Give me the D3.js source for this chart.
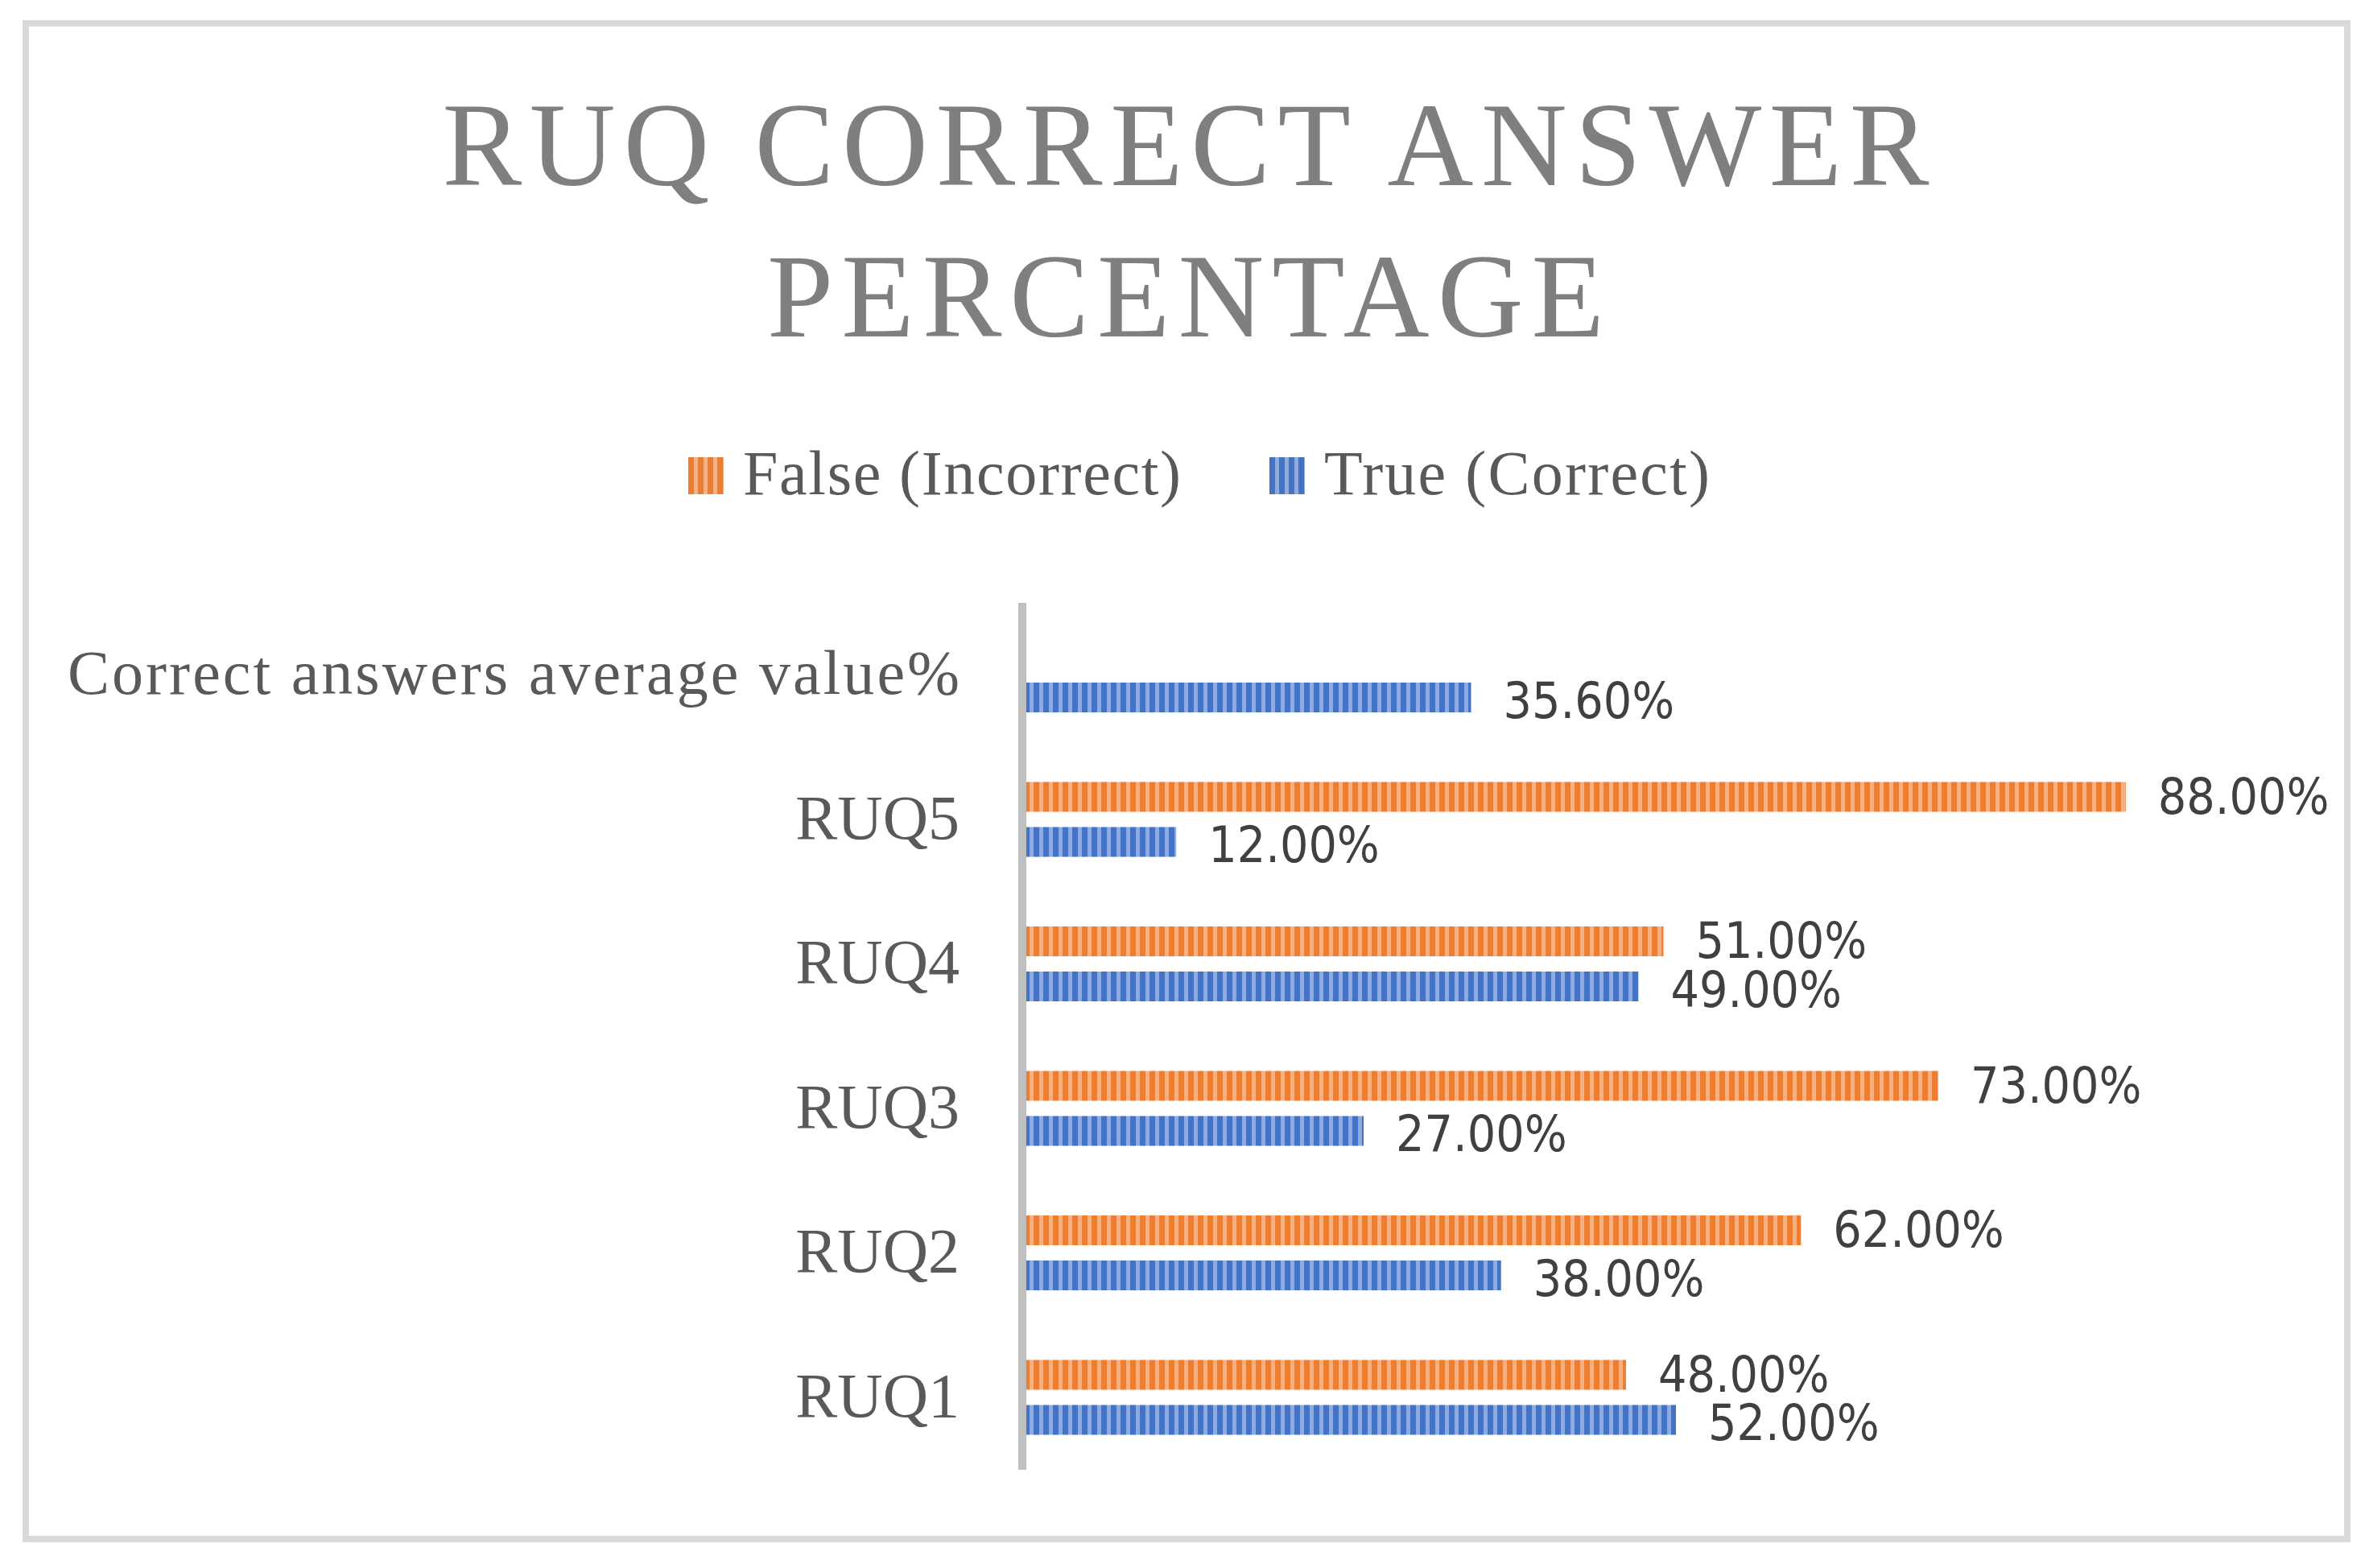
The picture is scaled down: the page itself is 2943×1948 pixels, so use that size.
<!DOCTYPE html>
<html>
<head>
<meta charset="utf-8">
<script src="https://cdn.jsdelivr.net/npm/d3@7"></script>
<style>
  html, body { margin: 0; padding: 0; background: #fff; }
  svg { display: block; }
</style>
</head>
<body>
<svg id="chart"></svg>
<script>
// Chart data
const categories = ["RUQ1", "RUQ2", "RUQ3", "RUQ4", "RUQ5", "Correct answers average value%"];
const seriesNames = ["False (Incorrect)", "True (Correct)"];
const falseValues = [48, 62, 73, 51, 88, null];
const trueValues = [52, 38, 27, 49, 12, 35.6];
const titleLines = ["RUQ CORRECT ANSWER", "PERCENTAGE"];

const width = 2943;
const height = 1948;
const serifFont = "'Liberation Serif', 'DejaVu Serif', serif";
const labelFont = "'Liberation Sans Narrow', 'DejaVu Sans Condensed', 'Liberation Sans', sans-serif";

const svg = d3.select("#chart").attr("width", width).attr("height", height);

// stripe patterns like Excel's vertical pattern fill
const colors = [
  { id: "pFalse", dark: "#ed7d31", light: "#f4b183" },
  { id: "pTrue", dark: "#4472c4", light: "#8faadc" }
];
const defs = svg.append("defs");
colors.forEach(c => {
  const p = defs.append("pattern")
    .attr("id", c.id)
    .attr("patternUnits", "userSpaceOnUse")
    .attr("width", 12).attr("height", 12);
  p.append("rect").attr("width", 12).attr("height", 12).attr("fill", c.dark);
  p.append("rect").attr("x", 7).attr("width", 5).attr("height", 12).attr("fill", c.light);
});

svg.append("rect").attr("width", width).attr("height", height).attr("fill", "#fff");

// chart border
svg.append("rect")
  .attr("x", 32).attr("y", 29)
  .attr("width", 2884).attr("height", 1883)
  .attr("fill", "none")
  .attr("stroke", "#d9d9d9")
  .attr("stroke-width", 8);

// title
const titleWidths = [1847, 1040];
svg.selectAll("text.title")
  .data(titleLines)
  .enter()
  .append("text")
  .attr("class", "title")
  .attr("x", 1473)
  .attr("y", (d, i) => 230 + i * 188)
  .attr("text-anchor", "middle")
  .attr("textLength", (d, i) => titleWidths[i])
  .attr("lengthAdjust", "spacing")
  .style("font-family", serifFont)
  .style("font-size", "148px")
  .attr("fill", "#7f7f7f")
  .text(d => d);

// scales
const margin = { left: 1275, right: 2827, top: 749, bottom: 1826 };
const x = d3.scaleLinear().domain([0, 100]).range([margin.left, margin.right]);
const y0 = d3.scaleBand()
  .domain(categories.slice().reverse())
  .range([margin.top, margin.bottom]);
const y1 = d3.scaleBand()
  .domain(seriesNames)
  .range([43, 136])
  .paddingInner(0.339);

const rows = categories.map((c, i) => ({
  category: c,
  values: [
    { series: seriesNames[0], value: falseValues[i], fill: "url(#pFalse)", dy: -1 },
    { series: seriesNames[1], value: trueValues[i], fill: "url(#pTrue)", dy: 4 }
  ].filter(v => v.value != null)
}));

const groups = svg.selectAll("g.group")
  .data(rows)
  .enter()
  .append("g")
  .attr("class", "group")
  .attr("transform", d => `translate(0,${y0(d.category)})`);

groups.selectAll("rect")
  .data(d => d.values)
  .enter()
  .append("rect")
  .attr("x", x(0))
  .attr("y", d => y1(d.series))
  .attr("width", d => x(d.value) - x(0))
  .attr("height", y1.bandwidth())
  .attr("fill", d => d.fill);

groups.selectAll("text.value")
  .data(d => d.values)
  .enter()
  .append("text")
  .attr("class", "value")
  .attr("x", d => x(d.value) + 40)
  .attr("y", d => y1(d.series) + y1.bandwidth() / 2 + d.dy)
  .attr("dominant-baseline", "central")
  .style("font-family", labelFont)
  .style("font-size", "62px")
  .attr("fill", "#404040")
  .text(d => d.value.toFixed(2) + "%");

// category axis
const yAxis = svg.append("g")
  .attr("transform", `translate(${margin.left - 5},0)`)
  .call(d3.axisLeft(y0).tickSize(0).tickPadding(78));
yAxis.select(".domain")
  .attr("stroke", "#bfbfbf")
  .attr("stroke-width", 10)
  .attr("d", `M0,${margin.top}V${margin.bottom}`);
yAxis.selectAll(".tick text")
  .style("font-family", serifFont)
  .style("font-size", "78px")
  .attr("fill", "#595959")
  .attr("dy", "0.3em")
  .filter(d => d.length > 10)
  .attr("textLength", 1108)
  .attr("lengthAdjust", "spacing");

// legend
const legendX = [855, 1577];
const legendWidths = [544, 479];
const legend = svg.selectAll("g.legend")
  .data(seriesNames)
  .enter()
  .append("g")
  .attr("class", "legend")
  .attr("transform", (d, i) => `translate(${legendX[i]},568)`);
legend.append("rect")
  .attr("width", 44).attr("height", 46)
  .attr("fill", (d, i) => `url(#${colors[i].id})`);
legend.append("text")
  .attr("x", 68)
  .attr("y", 46)
  .attr("textLength", (d, i) => legendWidths[i])
  .attr("lengthAdjust", "spacing")
  .style("font-family", serifFont)
  .style("font-size", "78px")
  .attr("fill", "#595959")
  .text(d => d);
</script>
</body>
</html>
